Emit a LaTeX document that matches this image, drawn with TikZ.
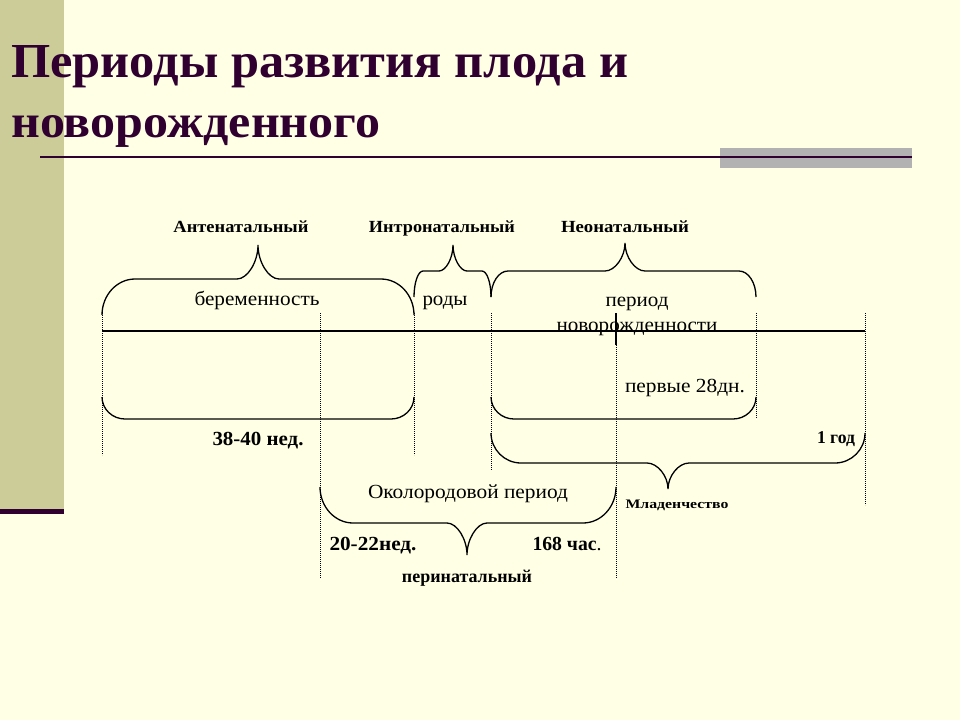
\documentclass[tikz,border=0pt]{standalone}
\usepackage{fontspec}
\setmainfont{Liberation Serif}
\definecolor{bgc}{RGB}{255,255,229}
\definecolor{stripc}{RGB}{204,204,153}
\definecolor{darkp}{RGB}{48,0,48}
\definecolor{grayb}{RGB}{178,178,178}
\newcommand\fitw[2]{\resizebox{#1}{\height}{#2}}
\newcommand\cbrace[8]{% x1 x2 yend yflat xtip ytip R W
  \draw[br] (#1,#3) .. controls (#1,{#4+0.45*(#3-#4)}) and ({#1+0.45*#7},#4) .. ({#1+#7},#4)
   -- ({#5-#8},#4) .. controls ({#5-0.5*#8},#4) and (#5,{#4+0.5*(#6-#4)}) .. (#5,#6)
   .. controls (#5,{#4+0.5*(#6-#4)}) and ({#5+0.5*#8},#4) .. ({#5+#8},#4)
   -- ({#2-#7},#4) .. controls ({#2-0.45*#7},#4) and (#2,{#4+0.45*(#3-#4)}) .. (#2,#3);}
\newcommand\rbracket[5]{% x1 x2 yend yflat R
  \draw[br] (#1,#3) .. controls (#1,{#4+0.45*(#3-#4)}) and ({#1+0.45*#5},#4) .. ({#1+#5},#4)
   -- ({#2-#5},#4) .. controls ({#2-0.45*#5},#4) and (#2,{#4+0.45*(#3-#4)}) .. (#2,#3);}
\begin{document}
\begin{tikzpicture}[x=1pt,y=-1pt,
  br/.style={line width=1.3pt},
  dotl/.style={line width=1pt, dash pattern=on 1.2pt off 0.8pt},
  lbl/.style={anchor=base, inner sep=0pt, font=\fontsize{20}{24}\selectfont},
  blbl/.style={anchor=base, inner sep=0pt, font=\fontsize{20}{24}\selectfont\bfseries},
  hlbl/.style={anchor=base, inner sep=0pt, font=\fontsize{17}{20}\selectfont\bfseries},
  tlbl/.style={anchor=base west, inner sep=0pt, text=darkp, font=\fontsize{48}{56}\selectfont\bfseries}]
\fill[bgc] (0,0) rectangle (960,720);
\useasboundingbox (0,0) rectangle (960,720);
% decorations
\fill[stripc] (0,0) rectangle (64,509);
\fill[darkp] (0,509) rectangle (64,514);
\fill[grayb] (720,148) rectangle (912,168);
\draw[darkp, line width=2.5pt] (40,157) -- (912,157);
% title
\node[tlbl] (t1) at (11,77) {\resizebox{617pt}{32pt}{Периоды развития плода и}};
\node[tlbl] (t2) at (11,137) {\resizebox{369pt}{22pt}{новорожденного}};
% main axis
\draw[line width=1.3pt] (102,331) -- (865,331);
% dotted verticals
\draw[dotl] (102,313) -- (102,455);
\draw[dotl] (320,313) -- (320,578);
\draw[dotl] (414,313) -- (414,455);
\draw[dotl] (491,313) -- (491,470);
\draw[line width=1.3pt] (616,313) -- (616,345);
\draw[dotl] (616,345) -- (616,578);
\draw[dotl] (756,313) -- (756,418);
\draw[dotl] (865,313) -- (865,505);
% braces
\cbrace{102}{414}{315}{279}{258}{245}{33}{21}
\cbrace{414}{491}{297}{271}{453}{245}{9}{14}
\cbrace{491}{756}{297}{271}{625}{243}{17}{20}
\rbracket{102}{414}{397}{419}{23}
\rbracket{491}{756}{397}{419}{23}
\cbrace{491}{865}{433}{463}{668}{489}{30}{21}
\cbrace{320}{616}{487}{523}{467}{555}{33}{20}
% labels
\node[hlbl] (ant) at (241,232) {\fitw{135pt}{Антенатальный}};
\node[hlbl] (intr) at (442,232) {\fitw{146pt}{Интронатальный}};
\node[hlbl] (neo) at (625,232) {\fitw{128pt}{Неонатальный}};
\node[lbl] (ber) at (257,305) {\fitw{125pt}{беременность}};
\node[lbl] (rod) at (445,305) {\fitw{45pt}{роды}};
\node[lbl] (per1) at (637,306) {\fitw{63pt}{период}};
\node[lbl] (per2) at (637,331) {\fitw{161pt}{новорожденности}};
\node[lbl] (p28) at (685,392) {\fitw{120pt}{первые 28дн.}};
\node[blbl] (w3840) at (258,445) {\fitw{91pt}{38-40 нед.}};
\node[blbl, font=\fontsize{18}{22}\selectfont\bfseries] (god) at (836,443) {\fitw{38pt}{1 год}};
\node[lbl] (okol) at (468,498) {\fitw{200pt}{Околородовой период}};
\node[blbl, font=\fontsize{13}{15}\selectfont\bfseries] (mlad) at (677,508) {\fitw{103pt}{Младенчество}};
\node[blbl] (w2022) at (373,550) {\fitw{87pt}{20-22нед.}};
\node[blbl] (h168) at (567,550) {\fitw{69pt}{168 час\textmd{.}}};
\node[blbl, font=\fontsize{18}{22}\selectfont\bfseries] (perin) at (467,582) {\fitw{130pt}{перинатальный}};
\end{tikzpicture}
\end{document}
